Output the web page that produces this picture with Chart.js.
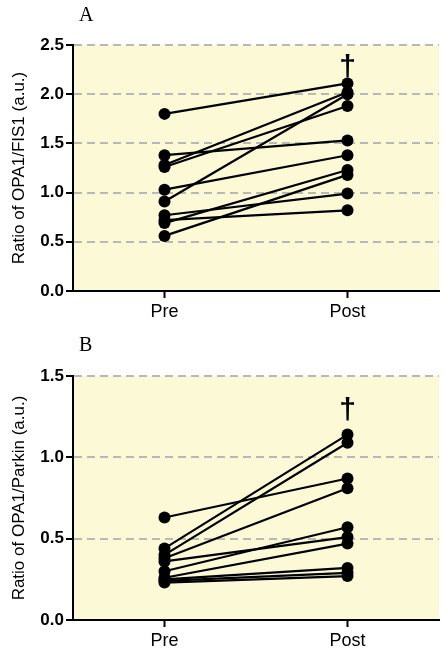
<!DOCTYPE html>
<html>
<head>
<meta charset="utf-8">
<script src="https://cdn.jsdelivr.net/npm/chart.js@4"></script>
<style>
  html, body { margin: 0; padding: 0; background: #fff; }
  .panel { position: relative; width: 445px; height: 326px; }
</style>
</head>
<body>
<div class="panel"><canvas id="chartA"></canvas></div>
<div class="panel"><canvas id="chartB"></canvas></div>
<script>
// データ
const phases = ['Pre', 'Post'];
const fis1Pre  = [1.80, 1.38, 1.28, 1.26, 1.03, 0.91, 0.77, 0.72, 0.69, 0.56];
const fis1Post = [2.11, 1.53, 2.02, 1.88, 1.38, 2.00, 0.99, 0.82, 1.23, 1.18];
const parkinPre  = [0.63, 0.44, 0.40, 0.38, 0.36, 0.30, 0.26, 0.25, 0.24, 0.23];
const parkinPost = [0.87, 1.14, 1.09, 0.81, 0.51, 0.57, 0.47, 0.32, 0.29, 0.27];
const fis1Ticks = [0, 0.5, 1.0, 1.5, 2.0, 2.5];
const parkinTicks = [0, 0.5, 1.0, 1.5];

const FONT = '"Liberation Sans", Arial, sans-serif';
const BG = '#fcf9d6';

// 背景、パネル記号(A/B)、ダガー
const panelPlugin = {
    id: 'panel',
    beforeDraw(chart, args, opts) {
        const { ctx, chartArea: a } = chart;
        ctx.save();
        ctx.fillStyle = BG;
        ctx.fillRect(a.left, a.top, a.right - a.left, a.bottom - a.top);
        ctx.restore();
    },
    afterDraw(chart, args, opts) {
        const { ctx, scales } = chart;
        ctx.save();
        ctx.fillStyle = '#000';
        ctx.font = '20px "Liberation Serif", serif';
        ctx.fillText(opts.letter, 79, opts.letterY);

        const top = Math.max(...opts.post);
        const x = scales.x.getPixelForValue(1);
        const y = scales.y.getPixelForValue(top) - opts.daggerGap;
        ctx.font = 'bold 30px ' + FONT;
        ctx.textAlign = 'center';
        const m = ctx.measureText('\u2020');
        ctx.fillText('\u2020', x, y - m.actualBoundingBoxDescent);
        ctx.restore();
    }
};

function drawPanel(id, pre, post, ticks, yTitle, panel) {
    const datasets = pre.map((v, i) => ({
        data: [v, post[i]],
        borderColor: '#000',
        backgroundColor: '#000',
        borderWidth: 2.2,
        pointRadius: 6,
        pointBorderWidth: 0,
        tension: 0
    }));

    new Chart(document.getElementById(id), {
        type: 'line',
        data: { labels: phases, datasets },
        plugins: [panelPlugin],
        options: {
            responsive: true,
            maintainAspectRatio: false,
            animation: false,
            layout: { padding: { top: panel.top, right: 4, left: 0, bottom: 0 } },
            plugins: {
                legend: { display: false },
                tooltip: { enabled: false },
                panel: panel
            },
            scales: {
                x: {
                    type: 'category',
                    offset: true,
                    grid: {
                        drawOnChartArea: false,
                        drawTicks: true,
                        tickLength: 7,
                        tickColor: '#000',
                        tickWidth: 2
                    },
                    border: { color: '#000', width: 2 },
                    ticks: { color: '#000', padding: 3, font: { family: FONT, size: 18 } },
                    afterFit: s => { s.height = panel.xHeight; }
                },
                y: {
                    min: 0,
                    max: ticks[ticks.length - 1],
                    afterBuildTicks: s => { s.ticks = ticks.map(v => ({ value: v })); },
                    grid: {
                        color: '#b8b8b8',
                        lineWidth: 2,
                        tickColor: '#000',
                        tickWidth: 2,
                        tickLength: 7,
                        tickBorderDash: []
                    },
                    border: { color: '#000', width: 2, dash: [8, 5] },
                    ticks: {
                        color: '#000',
                        padding: 2,
                        font: { family: FONT, size: 17, weight: 'bold' },
                        callback: v => Number(v).toFixed(1)
                    },
                    title: {
                        display: true,
                        text: yTitle,
                        color: '#000',
                        padding: { top: 9, bottom: 0 },
                        font: { family: FONT, size: 17 }
                    },
                    afterFit: s => { s.width = 73; }
                }
            }
        }
    });
}

drawPanel('chartA', fis1Pre, fis1Post, fis1Ticks, 'Ratio of OPA1/FIS1 (a.u.)',
    { letter: 'A', letterY: 21, top: 45, xHeight: 35, daggerGap: 5, post: fis1Post });
drawPanel('chartB', parkinPre, parkinPost, parkinTicks, 'Ratio of OPA1/Parkin (a.u.)',
    { letter: 'B', letterY: 25, top: 50, xHeight: 32, daggerGap: 14, post: parkinPost });
</script>
</body>
</html>
